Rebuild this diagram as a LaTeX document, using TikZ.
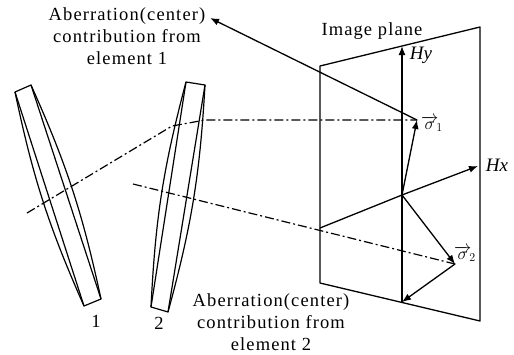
\documentclass[tikz,border=0pt]{standalone}
\usepackage{fontspec}
\setmainfont[LetterSpace=6]{Liberation Serif}
\newfontfamily\plainfont{Liberation Serif}
\usepackage{tkz-euclide}
\usetikzlibrary{arrows.meta,calc}
\tikzset{
  LensLine/.style={line width=1.2pt,color=black},
  PlaneLine/.style={line width=1.3pt,color=black},
  RayLine/.style={line width=1.2pt,color=black,dash pattern=on 9pt off 3pt on 2pt off 3pt},
  VecLine/.style={line width=1.3pt,color=black,-{Latex[length=9pt,width=7pt]}},
  TxtLabel/.style={font=\fontsize{18.5}{22}\selectfont,align=center,inner sep=0pt},
  AxisLabel/.style={font=\fontsize{19}{22}\selectfont\plainfont\itshape,inner sep=0pt}
}

\begin{document}
\begin{tikzpicture}[x=1pt,y=-1pt]
\useasboundingbox (0,0) rectangle (514,354);

\tkzDefPoints{15/92/A1,31/85/A2,101/299/A3,84/306/A4}
\tkzDefPoints{186/82/B1,205/85/B2,168/312/B3,151/307/B4}
\tkzDefPoints{320/66/P1,480/27/P2,480/321/P3,320/283/P4}
\tkzDefPoints{402/195/O,402/302/Yb,402/46/Yt,320/228/Xl,478/166/Xr}
\tkzDefPoints{417/120/S1,455/264/S2,210/18/E1}
\tkzDefPoints{27/213/R1,172/126/R2,205/120/R3,133/184/R4}

% lens 1
\tkzDrawPolygon[LensLine](A1,A2,A3,A4)
\draw[LensLine] (A1) to[bend right=6] (A4);
\draw[LensLine] (A2) to[bend left=6] (A3);
% lens 2
\tkzDrawPolygon[LensLine](B1,B2,B3,B4)
\draw[LensLine] (B1) to[bend right=6] (B4);
\draw[LensLine] (B2) to[bend left=6] (B3);

% image plane
\tkzDrawPolygon[PlaneLine](P1,P2,P3,P4)
\tkzDrawSegments[PlaneLine](Xl,O)

\tkzDrawSegments[VecLine](Yb,Yt O,Xr O,S1 O,S2 S2,Yb S1,E1)

\draw[RayLine] (R1) -- (R2) -- (R3) -- (S1);
\draw[RayLine] (R4) -- (S2);

\node[TxtLabel] (LblOne) at (127,36) {Aberration(center)\\contribution from\\element 1};
\node[TxtLabel] (LblTwo) at (271,322) {Aberration(center)\\contribution from\\element 2};
\node[TxtLabel] (LblPlane) at (372,31) {Image plane};
\node[TxtLabel] (LblLensA) at (96,321) {1};
\node[TxtLabel] (LblLensB) at (159,323) {2};
\node[AxisLabel] (LblHy) at (421,55) {Hy};
\node[AxisLabel] (LblHx) at (497,165) {Hx};
\node[TxtLabel] (LblSa) at (432,124) {$\overrightarrow{\sigma}_{\!1}$};
\node[TxtLabel] (LblSb) at (465,254) {$\overrightarrow{\sigma}_{\!2}$};

\end{tikzpicture}
\end{document}
